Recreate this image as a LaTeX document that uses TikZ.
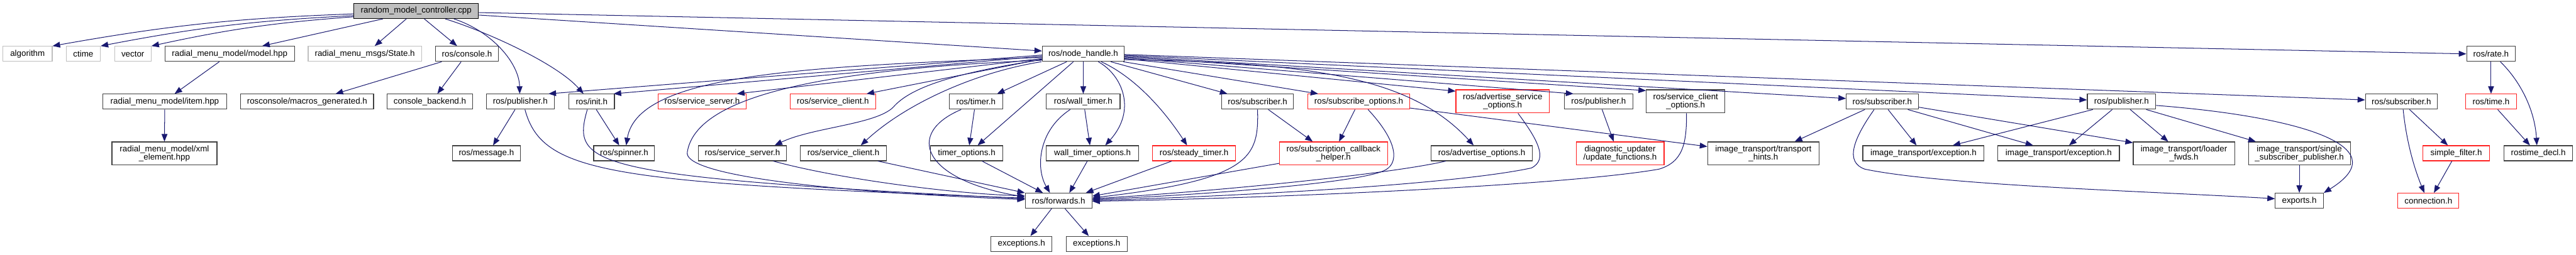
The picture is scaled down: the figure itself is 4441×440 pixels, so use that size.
\documentclass[tikz,border=0pt]{standalone}
\usepackage{fontspec}
\setmainfont{Liberation Sans}
\usetikzlibrary{arrows.meta}
\definecolor{edgeblue}{HTML}{191970}
\definecolor{nodeblack}{HTML}{404040}
\definecolor{nodegrey}{HTML}{BFBFBF}
\definecolor{nodered}{HTML}{FF2020}
\definecolor{rootfill}{HTML}{BFBFBF}
\tikzset{
  nb/.style={draw=nodeblack, line width=1.2pt, fill=white, minimum height=26pt, inner sep=0pt,
    font=\fontsize{14.5}{14}\selectfont, text=black, align=center},
  ng/.style={nb, draw=nodegrey},
  nr/.style={nb, draw=nodered},
  two/.style={minimum height=40pt},
  e/.style={draw=edgeblue, line width=1.1pt, -{Triangle[length=13pt,width=10pt]}}
}
\begin{document}
\begin{tikzpicture}[x=1pt,y=-1pt]
\useasboundingbox (0,0) rectangle (4441,440);
% row 0
\node[nb, fill=rootfill, draw=black, minimum width=215pt] (root) at (717.5,19) {random\_model\_controller.cpp};
% row 1
\node[ng, minimum width=85pt] (alg) at (47.5,93) {algorithm};
\node[ng, minimum width=59pt] (ctime) at (143.5,93) {ctime};
\node[ng, minimum width=63pt] (vec) at (229,93) {vector};
\node[nb, minimum width=223pt] (model) at (396,93) {radial\_menu\_model/model.hpp};
\node[ng, minimum width=195.5pt] (state) at (629,93) {radial\_menu\_msgs/State.h};
\node[nb, minimum width=108pt] (console) at (805,93) {ros/console.h};
\node[nb, minimum width=141pt] (nh) at (1867.5,93) {ros/node\_handle.h};
\node[nb, minimum width=84pt] (rate) at (4294.5,93) {ros/rate.h};
% row 2
\node[nb, minimum width=214pt] (item) at (284,175.5) {radial\_menu\_model/item.hpp};
\node[nb, minimum width=229pt] (macros) at (529.5,175.5) {rosconsole/macros\_generated.h};
\node[nb, minimum width=148pt] (backend) at (741,175.5) {console\_backend.h};
\node[nb, minimum width=117.5pt] (pubA) at (897,175.5) {ros/publisher.h};
\node[nb, minimum width=78.5pt] (init) at (1020,175.5) {ros/init.h};
\node[nr, minimum width=152pt] (ssR) at (1210.5,175.5) {ros/service\_server.h};
\node[nr, minimum width=148pt] (scR) at (1436,175.5) {ros/service\_client.h};
\node[nb, minimum width=92pt] (timer) at (1682.5,175.5) {ros/timer.h};
\node[nb, minimum width=127pt] (wtimer) at (1867.5,175.5) {ros/wall\_timer.h};
\node[nb, minimum width=124pt] (subA) at (2168,175.5) {ros/subscriber.h};
\node[nr, minimum width=175pt] (subopt) at (2342.5,175.5) {ros/subscribe\_options.h};
\node[nr, two, minimum width=161pt] (advsvc) at (2590.5,175) {ros/advertise\_service\\\_options.h};
\node[nb, minimum width=117.5pt] (pubB) at (2756,175.5) {ros/publisher.h};
\node[nb, two, minimum width=135.5pt] (scopt) at (2906,175) {ros/service\_client\\\_options.h};
\node[nb, minimum width=124pt] (subB) at (3245,175.5) {ros/subscriber.h};
\node[nb, minimum width=118pt] (pubC) at (3657.5,175.5) {ros/publisher.h};
\node[nb, minimum width=124pt] (subC) at (4140,175.5) {ros/subscriber.h};
\node[nr, minimum width=88pt] (time) at (4294.5,175.5) {ros/time.h};
% row 3
\node[nb, two, minimum width=181pt] (xml) at (283.5,265) {radial\_menu\_model/xml\\\_element.hpp};
\node[nb, minimum width=117pt] (msg) at (838.5,264.5) {ros/message.h};
\node[nb, minimum width=105pt] (spin) at (1076,264.5) {ros/spinner.h};
\node[nb, minimum width=152.5pt] (ssB) at (1280,264.5) {ros/service\_server.h};
\node[nb, minimum width=148pt] (scB) at (1454,264.5) {ros/service\_client.h};
\node[nb, minimum width=125pt] (topt) at (1666.5,264.5) {timer\_options.h};
\node[nb, minimum width=159pt] (wtopt) at (1883.5,264.5) {wall\_timer\_options.h};
\node[nr, minimum width=143pt] (steady) at (2058.5,264.5) {ros/steady\_timer.h};
\node[nr, two, minimum width=186.5pt] (sch) at (2299,265) {ros/subscription\_callback\\\_helper.h};
\node[nb, minimum width=175pt] (advopt) at (2554.5,264.5) {ros/advertise\_options.h};
\node[nr, two, minimum width=151.6pt] (upd) at (2793,265) {diagnostic\_updater\\/update\_functions.h};
\node[nb, two, minimum width=192pt] (hints) at (3040,265) {image\_transport/transport\\\_hints.h};
\node[nb, minimum width=209pt] (exA) at (3316,264.5) {image\_transport/exception.h};
\node[nb, minimum width=209.5pt] (exB) at (3549,264.5) {image\_transport/exception.h};
\node[nb, two, minimum width=174.6pt] (loader) at (3765,265) {image\_transport/loader\\\_fwds.h};
\node[nb, two, minimum width=175.6pt] (ssp) at (3964,265) {image\_transport/single\\\_subscriber\_publisher.h};
\node[nr, minimum width=115pt] (filter) at (4234.5,264.5) {simple\_filter.h};
\node[nb, minimum width=118.6pt] (rdecl) at (4376,264.5) {rostime\_decl.h};
% row 4
\node[nb, minimum width=115pt] (fwd) at (1825,346.5) {ros/forwards.h};
\node[nb, minimum width=83pt] (exports) at (3964,346.5) {exports.h};
\node[nr, minimum width=105pt] (conn) at (4186.5,346.5) {connection.h};
% row 5
\node[nb, minimum width=105pt] (exc1) at (1761,421) {exceptions.h};
\node[nb, minimum width=105pt] (exc2) at (1890.5,421) {exceptions.h};

% ---- edges from root
\draw[e] ([yshift=-5pt]root.west) to[bend right=4] (alg.north east);
\draw[e] ([yshift=-8pt]root.west) to[bend right=4] (ctime.north east);
\draw[e] ([yshift=-10pt]root.west) to[bend right=4] (vec.north east);
\draw[e] ([xshift=-57.5pt]root.south) -- ([xshift=56pt]model.north);
\draw[e] ([xshift=-17pt]root.south) -- ([xshift=17pt]state.north);
\draw[e] ([xshift=14pt]root.south) -- ([xshift=-17pt]console.north);
\draw[e] ([xshift=65pt]root.south) .. controls (850,55) and (895,110) .. ([xshift=-1pt]pubA.north);
\draw[e] ([xshift=50pt]root.south) .. controls (840,55) and (960,110) .. ([xshift=-14pt]init.north);
\draw[e] ([yshift=-7pt]root.east) -- ([yshift=5pt]nh.west);
\draw[e] ([yshift=-2.7pt]root.east) -- (rate.west);
% ---- left part
\draw[e] ([xshift=-18pt]model.south) -- ([xshift=17pt]item.north);
\draw[e] (item.south) -- (xml.north);
\draw[e] ([xshift=-43.5pt]console.south) -- ([xshift=49pt]macros.north);
\draw[e] ([xshift=-10pt]console.south) -- ([xshift=13pt]backend.north);
\draw[e] ([xshift=-9pt]pubA.south) -- ([xshift=11.5pt]msg.north);
\draw[e] ([xshift=8pt]pubA.south) .. controls (935,300) and (1050,315) .. ([yshift=4.5pt]fwd.west);
\draw[e] ([xshift=-7.5pt]init.south) .. controls (985,285) and (1010,305) .. ([yshift=3.5pt]fwd.west);
\draw[e] ([xshift=8pt]init.south) -- ([xshift=-8.5pt]spin.north);
% ---- node_handle to the left
\draw[e] ([yshift=-2pt]nh.west) -- ([xshift=48.6pt]pubA.north);
\draw[e] ([yshift=-4pt]nh.west) -- ([xshift=-2pt]init.north east);
\draw[e] ([yshift=-6pt]nh.west) .. controls (1400,115) and (1100,125) .. ([xshift=3.5pt]spin.north);
\draw[e] ([yshift=-8pt]nh.west) -- ([xshift=60pt]ssR.north);
\draw[e] ([yshift=-9pt]nh.west) -- ([xshift=58pt]scR.north);
\draw[e] ([yshift=-11pt]nh.west) .. controls (1400,120) and (1200,170) .. (1185,262)
   .. controls (1175,300) and (1400,330) .. ([yshift=2pt]fwd.west);
\draw[e] ([yshift=-10pt]nh.west) .. controls (1650,125) and (1570,150) .. (1540,185)
   .. controls (1510,215) and (1400,220) .. ([xshift=55.5pt]ssB.north);
\draw[e] ([xshift=-1pt]nh.south west) .. controls (1680,125) and (1560,180) .. ([xshift=30pt]scB.north);
\draw[e] ([xshift=-28.5pt]nh.south) -- ([xshift=36.5pt]timer.north);
\draw[e] ([xshift=-17pt]nh.south) -- ([xshift=19pt]topt.north);
\draw[e] (nh.south) -- (wtimer.north);
\draw[e] ([xshift=26pt]nh.south) .. controls (1935,130) and (1960,190) .. ([xshift=22pt]wtopt.north);
\draw[e] ([xshift=31pt]nh.south) .. controls (1950,130) and (2000,180) .. ([xshift=-12pt]steady.north);
\draw[e] ([xshift=47.5pt]nh.south) -- ([xshift=-52pt]subA.north);
% ---- node_handle to the right
\draw[e] ([xshift=-2pt]nh.south east) -- ([xshift=-70pt]subopt.north);
\draw[e] ([yshift=-10pt]nh.east) .. controls (2250,108) and (2430,130) .. ([xshift=-14pt]advopt.north);
\draw[e] ([yshift=-8.5pt]nh.east) -- ([yshift=-3pt]advsvc.north west);
\draw[e] ([yshift=-7pt]nh.east) -- ([xshift=-43.5pt]pubB.north);
\draw[e] ([yshift=-5.5pt]nh.east) -- ([yshift=-2pt]scopt.north west);
\draw[e] ([yshift=-4pt]nh.east) -- ([yshift=5.5pt]subB.west);
\draw[e] ([yshift=-2.5pt]nh.east) -- ([yshift=3pt]pubC.west);
\draw[e] ([yshift=-1pt]nh.east) -- ([yshift=3pt]subC.west);
% ---- into ros/forwards.h
\draw[e] ([xshift=53pt]ssB.south) .. controls (1450,310) and (1650,335) .. ([yshift=8.5pt]fwd.west);
\draw[e] ([xshift=59.5pt]scB.south) -- (fwd.north west);
\draw[e] ([xshift=-25.5pt]timer.south) .. controls (1560,230) and (1590,310) .. ([yshift=6.5pt]fwd.west);
\draw[e] ([xshift=-2.5pt]timer.south) -- ([xshift=4.5pt]topt.north);
\draw[e] ([xshift=26.5pt]topt.south) -- ([xshift=-27pt]fwd.north);
\draw[e] ([xshift=-22.5pt]wtimer.south) .. controls (1790,225) and (1785,290) .. ([xshift=-15pt]fwd.north);
\draw[e] ([xshift=2.5pt]wtimer.south) -- ([xshift=-4.5pt]wtopt.north);
\draw[e] ([xshift=-9pt]wtopt.south) -- ([xshift=18.5pt]fwd.north);
\draw[e] ([xshift=-38.5pt]steady.south) -- ([xshift=47pt]fwd.north);
\draw[e] (subA.south) .. controls (2170,270) and (2160,310) .. ([yshift=5pt]fwd.east);
\draw[e] ([xshift=18.5pt]subA.south) -- ([xshift=-36pt]sch.north);
\draw[e] ([xshift=-6.5pt]subopt.south) -- ([xshift=9.5pt]sch.north);
\draw[e] ([xshift=16pt]subopt.south) .. controls (2415,250) and (2410,285) .. (2385,295)
   .. controls (2340,315) and (2100,335) .. ([yshift=2pt]fwd.east);
\draw[e] ([yshift=-11pt]subopt.east) -- ([yshift=12pt]hints.west);
\draw[e] ([yshift=-17pt]sch.west) -- ([yshift=8pt]fwd.east);
\draw[e] ([xshift=-62pt]advopt.south) .. controls (2400,300) and (2100,330) .. ([yshift=3.5pt]fwd.east);
\draw[e] ([xshift=26.5pt]advsvc.south) .. controls (2650,240) and (2670,275) .. (2640,290)
   .. controls (2500,320) and (2100,340) .. ([yshift=0.5pt]fwd.east);
\draw[e] ([xshift=1.5pt]scopt.south) .. controls (2908,250) and (2900,280) .. (2860,292)
   .. controls (2700,320) and (2200,342) .. ([yshift=-1pt]fwd.east);
\draw[e] ([xshift=-12pt]fwd.south) -- ([xshift=15.5pt]exc1.north);
\draw[e] ([xshift=11pt]fwd.south) -- ([xshift=-13.5pt]exc2.north);
% ---- right part
\draw[e] ([xshift=6pt]pubB.south) -- ([xshift=-11pt]upd.north);
\draw[e] ([xshift=-30pt]subB.south) -- ([xshift=54pt]hints.north);
\draw[e] ([xshift=10pt]subB.south) -- ([xshift=-12pt]exA.north);
\draw[e] ([xshift=44pt]subB.south) -- ([xshift=-44pt]exB.north);
\draw[e] ([yshift=-9.5pt]subB.east) -- ([yshift=-2pt]loader.north west);
\draw[e] ([xshift=-14pt]subB.south) .. controls (3195,240) and (3180,280) .. (3215,292)
   .. controls (3350,320) and (3700,330) .. ([yshift=3.5pt]exports.west);
\draw[e] ([xshift=-49.5pt]pubC.south) -- ([xshift=50.5pt]exA.north);
\draw[e] ([xshift=-16pt]pubC.south) -- ([xshift=18pt]exB.north);
\draw[e] ([xshift=15pt]pubC.south) -- ([xshift=-27pt]loader.north);
\draw[e] ([xshift=42.5pt]pubC.south) -- ([xshift=-75pt]ssp.north);
\draw[e] ([yshift=-6.5pt]pubC.east) .. controls (3950,200) and (4140,250) .. (exports.north east);
\draw[e] (ssp.south) -- (exports.north);
\draw[e] ([xshift=14pt]subC.south) -- ([xshift=-14.5pt]filter.north);
\draw[e] ([xshift=3pt]subC.south) .. controls (4150,260) and (4170,310) .. ([xshift=-7pt]conn.north);
\draw[e] ([xshift=-7.5pt]filter.south) -- ([xshift=9.5pt]conn.north);
\draw[e] (rate.south) -- (time.north);
\draw[e] ([xshift=16pt]rate.south) .. controls (4345,140) and (4370,190) .. ([xshift=-2.5pt]rdecl.north);
\draw[e] ([xshift=11.5pt]time.south) -- ([xshift=-14.5pt]rdecl.north);
\end{tikzpicture}
\end{document}
